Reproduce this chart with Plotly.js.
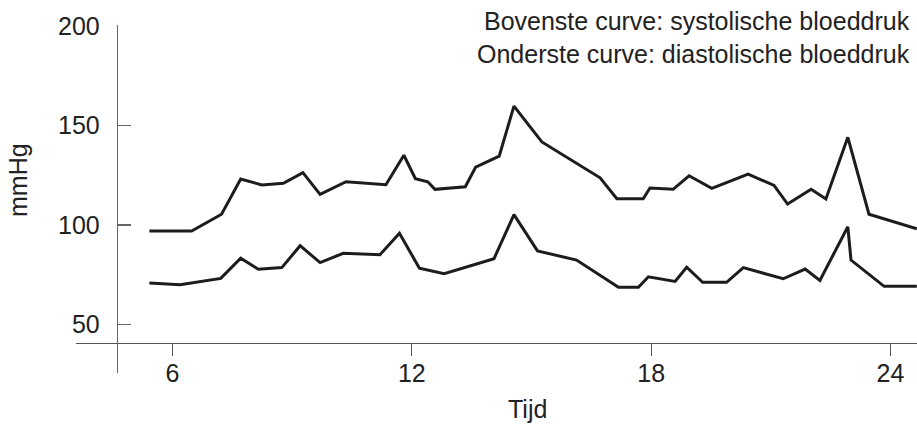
<!DOCTYPE html>
<html>
<head>
<meta charset="utf-8">
<script src="https://cdn.plot.ly/plotly-3.0.1.min.js"></script>
<style>html,body{margin:0;padding:0;background:#fff;}#chart{width:917px;height:425px;}</style>
</head>
<body>
<div id="chart"></div>
<script>
// Time (hours) and blood pressure (mmHg)
var sysTime = [5.42, 6.48, 7.23, 7.71, 8.24, 8.78, 9.27, 9.70, 10.35, 11.35, 11.80, 12.09, 12.40, 12.58, 13.34, 13.60, 14.19, 14.56, 15.26, 16.72, 17.14, 17.80, 17.97, 18.55, 18.95, 19.52, 20.43, 21.08, 21.42, 22.01, 22.38, 22.93, 23.46, 24.66];
var sysValues = [97.0, 97.0, 105.4, 123.1, 120.1, 120.9, 126.3, 115.4, 121.7, 120.2, 135.0, 123.2, 121.7, 117.9, 119.2, 129.1, 134.6, 159.7, 141.7, 123.7, 113.2, 113.2, 118.6, 117.9, 124.7, 118.4, 125.5, 119.9, 110.5, 117.9, 113.1, 144.0, 105.4, 98.1];

var diaTime = [5.42, 6.19, 7.21, 7.71, 8.15, 8.74, 9.20, 9.70, 10.28, 11.20, 11.69, 12.19, 12.81, 14.06, 14.56, 15.15, 16.13, 17.18, 17.68, 17.93, 18.60, 18.89, 19.29, 19.89, 20.31, 21.31, 21.86, 22.23, 22.93, 23.01, 23.84, 24.66];
var diaValues = [70.9, 70.0, 73.2, 83.3, 77.8, 78.6, 89.6, 81.1, 85.8, 85.1, 95.8, 78.3, 75.6, 83.1, 105.2, 87.0, 82.4, 68.7, 68.7, 74.0, 71.7, 78.8, 71.2, 71.2, 78.6, 73.0, 77.9, 72.2, 99.1, 82.4, 69.2, 69.2];

var xTicks = [6, 12, 18, 24];
var yTicks = [50, 100, 150, 200];
var xTitle = "Tijd";
var yTitle = "mmHg";
var noteText = "Bovenste curve: systolische bloeddruk<br>Onderste curve: diastolische bloeddruk";

var FONT = "Liberation Sans, Arial, Helvetica, sans-serif";
var TXT = "#222222";
var lineStyle = {color: "#1c1c1c", width: 3, shape: "linear"};

var traces = [
  {x: sysTime, y: sysValues, type: "scatter", mode: "lines", line: lineStyle, hoverinfo: "skip", name: "systolisch"},
  {x: diaTime, y: diaValues, type: "scatter", mode: "lines", line: lineStyle, hoverinfo: "skip", name: "diastolisch"}
];

var layout = {
  width: 917, height: 425,
  margin: {l: 76, r: 0, t: 25, b: 52, pad: 0},
  paper_bgcolor: "#ffffff", plot_bgcolor: "#ffffff",
  showlegend: false,
  font: {family: FONT, size: 25, color: TXT},
  xaxis: {
    range: [3.581, 24.664], domain: [0, 1],
    anchor: "free", position: 0.0871,
    tickmode: "array", tickvals: xTicks, ticktext: xTicks.map(String),
    ticks: "outside", ticklen: 12, tickwidth: 1.2, tickcolor: "#555",
    showline: true, linecolor: "#555", linewidth: 1.2,
    showgrid: false, zeroline: false,
    tickfont: {family: FONT, size: 25, color: TXT},
    ticklabelstandoff: -4
  },
  yaxis: {
    range: [25.7, 200.4], domain: [0, 1],
    anchor: "free", position: 0.0484,
    tickmode: "array", tickvals: yTicks, ticktext: yTicks.map(String),
    ticks: "inside", ticklen: 13, tickwidth: 1.2, tickcolor: "#666",
    showline: true, linecolor: "#666", linewidth: 1.2,
    showgrid: false, zeroline: false,
    tickfont: {family: FONT, size: 25, color: TXT},
    ticklabelstandoff: 12
  },
  annotations: [
    {xref: "paper", yref: "paper", x: (527 - 76) / 841, y: (373 - 409) / 348,
     xanchor: "center", yanchor: "middle", showarrow: false,
     text: xTitle, font: {family: FONT, size: 25, color: TXT}},
    {xref: "paper", yref: "paper", x: (18 - 76) / 841, y: (373 - 180) / 348,
     xanchor: "center", yanchor: "middle", showarrow: false, textangle: -90,
     text: yTitle, font: {family: FONT, size: 25, color: TXT}},
    {xref: "paper", yref: "paper", x: (912 - 76) / 841, y: (373 - 5) / 348,
     xanchor: "right", yanchor: "top", align: "right", showarrow: false,
     text: noteText, font: {family: FONT, size: 25, color: TXT}}
  ]
};

Plotly.newPlot("chart", traces, layout, {displayModeBar: false, staticPlot: true});
</script>
</body>
</html>
